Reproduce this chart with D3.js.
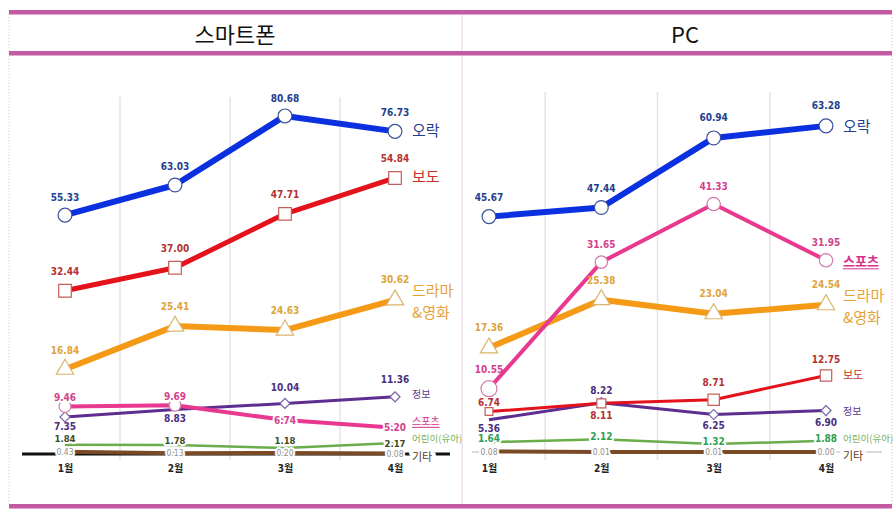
<!DOCTYPE html>
<html><head><meta charset="utf-8">
<script src="https://cdn.jsdelivr.net/npm/d3@7"></script>
<style>body{margin:0;background:#fff} svg{display:block}</style>
</head><body><svg id="c" width="896" height="515"></svg>
<script>
// ---------------- DATA ----------------
const months = ['1월','2월','3월','4월'];
const panelTitles = ['스마트폰','PC'];
const seriesNames = ['오락','보도','드라마&영화','스포츠','정보','어린이(유아)','기타'];

const phoneEnt    = [55.33, 63.03, 80.68, 76.73];
const phoneNews   = [32.44, 37.00, 47.71, 54.84];
const phoneDrama  = [16.84, 25.41, 24.63, 30.62];
const phoneSports = [9.46, 9.69, 6.74, 5.20];
const phoneInfo   = [7.35, 8.83, 10.04, 11.36];
const phoneKids   = [1.84, 1.78, 1.18, 2.17];
const phoneEtc    = [0.43, 0.13, 0.20, 0.08];

const pcEnt    = [45.67, 47.44, 60.94, 63.28];
const pcNews   = [6.74, 8.11, 8.71, 12.75];
const pcDrama  = [17.36, 25.38, 23.04, 24.54];
const pcSports = [10.55, 31.65, 41.33, 31.95];
const pcInfo   = [5.36, 8.22, 6.25, 6.90];
const pcKids   = [1.64, 2.12, 1.32, 1.88];
const pcEtc    = [0.08, 0.01, 0.01, 0.00];

// ---------------- STYLE / LAYOUT ----------------
const NUM_FONT = '"Liberation Sans Narrow","DejaVu Sans Condensed","Roboto","Noto Sans CJK KR",sans-serif';
const KR_FONT = '"Noto Sans CJK KR","Noto Sans",sans-serif';
const fmt = d3.format('.2f');

const colors = {
  ent:   {line:'#0b30e0', label:'#22408f', name:'#22408f', mk:'#3a4f9a'},
  news:  {line:'#e3121b', label:'#b53131', name:'#c0332c', mk:'#c4605c'},
  drama: {line:'#f59a17', label:'#dea33b', name:'#e6a238', mk:'#d9b56e'},
  sports:{line:'#e8388f', label:'#d3418d', name:'#d6338a', mk:'#d27aa8'},
  info:  {line:'#5d2d90', label:'#4a2f80', name:'#5b3b8e', mk:'#7463a6'},
  kids:  {line:'#6aae4c', label:'#3e4a28', name:'#78b060', mk:'#6aae4c'},
  etc:   {line:'#7a4a26', label:'#8e8e8e', name:'#5a3a1a', mk:'#7a4a26'}
};

const svg = d3.select('#c');

// frame
const frame = svg.append('g');
frame.append('line').attr('x1',462).attr('x2',462).attr('y1',12).attr('y2',507).attr('stroke','#ecd2e6').attr('stroke-width',1);
[9,892].forEach(xx=>frame.append('line').attr('x1',xx).attr('x2',xx).attr('y1',14).attr('y2',505)
  .attr('stroke','#e4bcd8').attr('stroke-width',1).attr('stroke-dasharray','1,2'));
[[10,4],[51,4],[504,4]].forEach(([yy,h])=>{
  frame.append('rect').attr('x',9).attr('y',yy).attr('width',883).attr('height',h).attr('fill','#c25ba2');
  frame.append('rect').attr('x',9).attr('y',yy+h).attr('width',883).attr('height',1).attr('fill','#e3a9d2');
});

const panels = [
  {
    title: panelTitles[0], titleX: 235,
    xRange: [65, 395],
    yMain: d3.scaleLinear().domain([0, 60]).range([454, 152]),
    yEnt:  d3.scaleLinear().domain([50, 85]).range([236, 99]),
    gridTop: 97, gridBottom: 460,
    base: {x1: 22, x2: 450, y: 454, color: '#111', w: 3},
    series: [
      {key:'etc', name:seriesNames[6], v:phoneEtc, w:4, halo:true, lsize:8.5, ldy:[0,0,0,0], mk:null, nsize:11, ndy:2, nameHalo:true},
      {key:'kids', name:seriesNames[5], v:phoneKids, w:2.5, halo:true, lsize:9.5, ldy:[-6,-5,-8,0], mk:null, nsize:9.5, ndy:-5},
      {key:'info', name:seriesNames[4], v:phoneInfo, w:3, lsize:10, ldy:[9,9,-16,-17], mk:'diamond', ms:[50,0,50,50], nsize:10, ndy:-3},
      {key:'sports', name:seriesNames[3], v:phoneSports, w:4, halo:true, lsize:10, ldy:[-9,-9,0,0], mk:'circle', ms:[110,110,0,0], nsize:10, ndy:-7, underline:true},
      {key:'drama', name:seriesNames[2], v:phoneDrama, w:6, lsize:10, ldy:[-19,-20,-20,-20], mk:'triangle', ms:[130,130,130,130], nsize:15, ndy:0, twoLine:true},
      {key:'news', name:seriesNames[1], v:phoneNews, w:5, lsize:10, ldy:[-19,-19,-19,-19], mk:'square', ms:[160,160,160,160], nsize:15, ndy:-2},
      {key:'ent', name:seriesNames[0], v:phoneEnt, ent:true, w:6, lsize:10, ldy:[-18,-18,-17,-19], mk:'circle', ms:[150,150,150,150], nsize:15, ndy:-2}
    ]
  },
  {
    title: panelTitles[1], titleX: 685,
    xRange: [489, 826],
    yMain: d3.scaleLinear().domain([0, 45]).range([452, 182]),
    yEnt:  d3.scaleLinear().domain([0, 65]).range([452, 117]),
    gridTop: 92, gridBottom: 460,
    base: {x1: 472, x2: 882, y: 452, color: '#cfcfcf', w: 1.5},
    series: [
      {key:'etc', name:seriesNames[6], v:pcEtc, w:4, halo:true, lsize:8.5, ldy:[0,0,0,0], mk:null, nsize:11, ndy:3, nameHalo:true},
      {key:'kids', name:seriesNames[5], v:pcKids, w:2.5, halo:true, lsize:10, ldy:[-4,-3,-3,-2], mk:null, nsize:9.5, ndy:-3, labelColor:'#2f9f55'},
      {key:'info', name:seriesNames[4], v:pcInfo, w:3, lsize:10, ldy:[9,-12,11,12], mk:'diamond', ms:[0,50,50,50], nsize:10, ndy:0},
      {key:'news', name:seriesNames[1], v:pcNews, w:3, lsize:10, ldy:[-9,12,-17,-16], mk:'square', ms:[60,80,130,130], nsize:11, ndy:-2},
      {key:'drama', name:seriesNames[2], v:pcDrama, w:6, lsize:10, ldy:[-20,-19,-20,-20], mk:'triangle', ms:[130,130,130,130], nsize:15, ndy:0, twoLine:true},
      {key:'sports', name:seriesNames[3], v:pcSports, w:4, lsize:10, ldy:[-19,-18,-18,-18], mk:'circle', ms:[200,120,140,140], nsize:13, ndy:0, underline:true, bold:true},
      {key:'ent', name:seriesNames[0], v:pcEnt, ent:true, w:6, lsize:10, ldy:[-19,-19,-20,-20], mk:'circle', ms:[150,150,150,150], nsize:15, ndy:0}
    ]
  }
];

const symbolTypes = {circle:d3.symbolCircle, square:d3.symbolSquare, triangle:d3.symbolTriangle, diamond:d3.symbolSquare};

panels.forEach(p => {
  const g = svg.append('g');
  const x = d3.scalePoint().domain(months).range(p.xRange);

  // title
  g.append('text').attr('x', p.titleX).attr('y', 33).attr('text-anchor','middle').attr('dominant-baseline','central')
    .attr('font-family', KR_FONT).attr('font-size', 22).attr('fill','#111').text(p.title);

  // vertical grid between months
  const mids = d3.pairs(months).map(([a,b]) => (x(a)+x(b))/2);
  g.selectAll('line.grid').data(mids).join('line').attr('class','grid')
    .attr('x1', d=>d).attr('x2', d=>d).attr('y1', p.gridTop).attr('y2', p.gridBottom)
    .attr('stroke', '#e4e4e4').attr('stroke-width', 1.5);

  // baseline
  g.append('line').attr('x1', p.base.x1).attr('x2', p.base.x2).attr('y1', p.base.y).attr('y2', p.base.y)
    .attr('stroke', p.base.color).attr('stroke-width', p.base.w);

  // month axis
  const ax = g.append('g').attr('transform', 'translate(0,468)').call(d3.axisBottom(x).tickSize(0).tickPadding(0));
  ax.select('.domain').remove();
  ax.selectAll('text').attr('dy','0.35em').attr('y',0).attr('font-size',10).attr('font-weight','bold')
    .attr('fill','#222').attr('font-family', NUM_FONT);

  const yOf = s => (s.ent ? p.yEnt : p.yMain);
  const lineG = g.append('g'), mkG = g.append('g'), labG = g.append('g');

  p.series.forEach(s => {
    const c = colors[s.key];
    const y = yOf(s);
    const line = d3.line().x((d,i)=>x(months[i])).y(d=>y(d));
    lineG.append('path').datum(s.v).attr('d', line).attr('fill','none')
      .attr('stroke', c.line).attr('stroke-width', s.w).attr('stroke-linejoin','round');

    if (s.mk) {
      s.v.forEach((v,i) => {
        if (!s.ms[i]) return;
        mkG.append('path')
          .attr('d', d3.symbol().type(symbolTypes[s.mk]).size(s.ms[i])())
          .attr('transform', `translate(${x(months[i])},${y(v)})` + (s.mk==='diamond' ? ' rotate(45)' : ''))
          .attr('fill','#fff').attr('stroke', c.mk).attr('stroke-width', 1.2);
      });
    }

    // value labels
    s.v.forEach((v,i) => {
      const t = labG.append('text').attr('x', x(months[i])).attr('y', y(v) + s.ldy[i])
        .attr('text-anchor','middle').attr('dominant-baseline','central')
        .attr('font-family', NUM_FONT).attr('font-size', s.lsize).attr('font-weight', s.key==='etc' ? 'normal' : 'bold')
        .attr('fill', s.labelColor || c.label).text(fmt(v));
      if (s.halo) t.attr('stroke','#fff').attr('stroke-width',4).attr('paint-order','stroke').attr('stroke-linejoin','round');
    });

    // series name
    const last = s.v[s.v.length-1];
    const nx = x(months[months.length-1]) + 17;
    const ny = y(last) + s.ndy;
    const nameText = labG.append('text').attr('x', nx).attr('font-family', KR_FONT)
      .attr('font-size', s.nsize).attr('font-weight', s.bold ? 'bold' : 'normal').attr('fill', c.name);
    if (s.nameHalo) nameText.attr('stroke','#fff').attr('stroke-width',8).attr('paint-order','stroke').attr('stroke-linejoin','round');
    if (s.twoLine) {
      const parts = s.name.split('&');
      nameText.attr('y', ny - 11).attr('dominant-baseline','central');
      nameText.append('tspan').attr('x', nx).text(parts[0]);
      nameText.append('tspan').attr('x', nx).attr('dy', 22).text('&' + parts[1]);
    } else {
      nameText.attr('y', ny).attr('dominant-baseline','central').text(s.name);
    }
    if (s.underline) {
      const bb = nameText.node().getBBox();
      labG.append('line').attr('x1', bb.x).attr('x2', bb.x + bb.width)
        .attr('y1', bb.y + bb.height - 1).attr('y2', bb.y + bb.height - 1)
        .attr('stroke', c.name).attr('stroke-width', 1);
    }
  });
});
</script></body></html>
